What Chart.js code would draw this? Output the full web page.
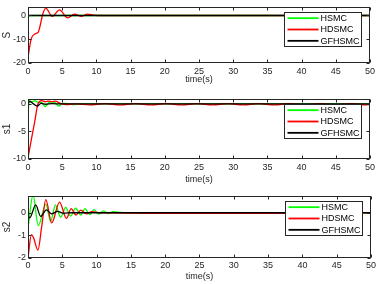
<!DOCTYPE html>
<html>
<head>
<meta charset="utf-8">
<script src="https://cdn.jsdelivr.net/npm/chart.js@4.4.0/dist/chart.umd.min.js"></script>
<style>
html, body { margin: 0; padding: 0; background: #fff; }
#wrap { position: relative; width: 378px; height: 284px; }
canvas { position: absolute; left: 0; }
</style>
</head>
<body>
<div id="wrap">
  <canvas id="c1" width="378" height="90" style="top:0"></canvas>
  <canvas id="c2" width="378" height="95" style="top:90px"></canvas>
  <canvas id="c3" width="378" height="99" style="top:185px"></canvas>
</div>
<script>
// series names + colours
const seriesNames = ['HSMC', 'HDSMC', 'GFHSMC'];
const seriesColors = ['#00ff00', '#ff0000', '#000000'];
const xTicks = [0, 5, 10, 15, 20, 25, 30, 35, 40, 45, 50];

// ---- panel 1 : S ----
const sHsmcT = [0, 0.15, 0.4, 50];
const sHsmcV = [-1.7, -0.1, 0, 0];
const sHdsmcT = [0, 0.45, 1.0, 1.5, 1.8, 2.1, 2.6, 3.55, 4.6, 5.8, 6.8, 7.8, 8.7, 9.7, 11, 50];
const sHdsmcV = [-17.7, -10, -7.8, -7, -4, 0, 3.1, -0.4, 2.4, -1.0, 0.6, -0.4, 0.6, 0.1, 0, 0];
const sGfT = [0, 50];
const sGfV = [0, 0];
const sTicks = [-20, -10, 0];

// ---- panel 2 : s1 ----
const s1HsmcT = [0, 0.2, 0.6, 1.0, 1.5, 2.0, 2.5, 3.0, 3.5, 4.0, 4.5, 5.0, 5.5, 6.5, 8, 50];
const s1HsmcV = [-1.8, 0.6, 0.4, 0.6, 0.3, 0.3, -0.5, 0.2, 0.4, 0.2, -0.4, 0.1, 0.1, -0.1, 0, 0];
const s1HdsmcT = [0, 0.5, 1.0, 1.45, 2.0, 2.5, 3.0, 3.5, 4.0, 4.7, 5.5, 7, 9, 11.2, 13.5, 15.7, 18, 20.2,
                  22.5, 24.7, 27, 29.2, 31.5, 33.7, 36, 38.2, 40.5, 42.7, 45, 47.2, 49.5, 50];
const s1HdsmcV = [-9.8, -6.4, -3.1, 0, 0.6, 0.4, 0.5, 0.4, 0.5, 0.1, -0.1, 0, -0.15, 0.05, -0.15, 0.05, -0.15, 0.05,
                  -0.15, 0.05, -0.15, 0.05, -0.15, 0.05, -0.15, 0.05, -0.15, 0.05, -0.15, 0.05, -0.15, -0.12];
const s1GfT = [0, 0.25, 0.7, 1.35, 1.9, 2.6, 3.5, 5, 50];
const s1GfV = [0.2, 0.45, 0.1, -0.4, 0.1, -0.05, 0.05, 0, 0];
const s1Ticks = [-10, -5, 0];

// ---- panel 3 : s2 ----
const s2HsmcT = [0, 0.73, 1.5, 2.6, 3.3, 4.0, 4.76, 5.5, 6.2, 6.95, 7.7, 8.3, 9.0, 9.6, 10.3, 11.0, 11.7, 12.4, 13.5, 15, 50];
const s2HsmcV = [-0.68, 0.78, -0.57, 0.38, -0.38, 0.35, -0.2, 0.24, -0.15, 0.2, -0.1, 0.18, -0.08, 0.14, -0.06, 0.08, -0.04, 0.05, 0.01, 0, 0];
const s2HdsmcT = [0, 0.5, 0.8, 1.45, 2.0, 2.6, 3.45, 4.6, 5.6, 6.3, 7.0, 7.7, 8.5, 9.3, 10.5, 12, 20, 28, 36, 44, 50];
const s2HdsmcV = [-2, -0.97, -1.1, -1.65, -0.6, 0.58, -0.45, 0.47, -0.25, 0.18, -0.1, 0.12, -0.05, 0.05, 0, 0, -0.03, -0.03, -0.03, 0, 0];
const s2GfT = [0, 0.25, 1.12, 1.85, 2.67, 3.45, 4.3, 5.2, 6.5, 50];
const s2GfV = [-0.1, -0.23, 0.35, -0.16, 0.13, -0.05, 0.06, -0.02, 0, 0];
const s2Ticks = [-2, -1, 0];

const fontFamily = '"Liberation Sans", Arial, sans-serif';

function pts(t, v) {
    return t.map((x, i) => ({ x: x, y: v[i] }));
}

// box around the axes + inward ticks like matlab
const framePlugin = {
    id: 'frame',
    afterDatasetsDraw(chart) {
        const { ctx, chartArea: a, scales: { x, y } } = chart;
        const L = Math.round(a.left) + 0.5, R = Math.round(a.right) - 0.5;
        const T = Math.round(a.top) + 0.5, B = Math.round(a.bottom) - 0.5;
        ctx.save();
        ctx.strokeStyle = '#262626';
        ctx.lineWidth = 1;
        ctx.strokeRect(L, T, R - L, B - T);
        ctx.beginPath();
        x.ticks.forEach(tk => {
            const px = Math.round(x.getPixelForValue(tk.value)) + 0.5;
            ctx.moveTo(px, B); ctx.lineTo(px, B - 3);
            ctx.moveTo(px, T); ctx.lineTo(px, T + 3);
        });
        y.ticks.forEach(tk => {
            const py = Math.round(y.getPixelForValue(tk.value)) + 0.5;
            ctx.moveTo(L, py); ctx.lineTo(L + 3, py);
            ctx.moveTo(R, py); ctx.lineTo(R - 3, py);
        });
        ctx.stroke();
        ctx.restore();
    }
};

// legend box in the upper right corner of the axes
const boxLegend = {
    id: 'boxLegend',
    afterDraw(chart) {
        const { ctx, chartArea: a } = chart;
        const w = 77, h = 34;
        const left = Math.round(a.right - 9 - w) + 0.5;
        const top = Math.round(a.top + 5) + 0.5;
        ctx.save();
        ctx.fillStyle = '#fff';
        ctx.fillRect(left, top, w, h);
        ctx.strokeStyle = '#262626';
        ctx.lineWidth = 1;
        ctx.strokeRect(left, top, w, h);
        ctx.font = '9px ' + fontFamily;
        ctx.textBaseline = 'middle';
        ctx.fillStyle = '#000';
        chart.data.datasets.forEach((ds, i) => {
            const yy = top + h * (2 * i + 1) / 6;
            ctx.strokeStyle = ds.borderColor;
            ctx.lineWidth = 1.8;
            ctx.beginPath();
            ctx.moveTo(left + 3, yy);
            ctx.lineTo(left + 34, yy);
            ctx.stroke();
            ctx.fillText(ds.label, left + 36, yy + 0.5);
        });
        ctx.restore();
    }
};

function makePanel(id, yLabel, series, yMin, yMax, yTicks, p) {
    const canvas = document.getElementById(id);
    const H = canvas.height;
    return new Chart(canvas, {
        type: 'line',
        data: {
            datasets: series.map((s, i) => ({
                label: seriesNames[i],
                data: pts(s[0], s[1]),
                borderColor: seriesColors[i],
                backgroundColor: seriesColors[i],
                borderWidth: 1.3,
                pointRadius: 0,
                cubicInterpolationMode: 'monotone',
                order: 3 - i
            }))
        },
        options: {
            responsive: false,
            animation: false,
            events: [],
            layout: { padding: { top: p.top, right: 6, left: 0, bottom: 0 } },
            plugins: { legend: { display: false }, tooltip: { enabled: false } },
            scales: {
                x: {
                    type: 'linear', min: 0, max: 50,
                    grid: { display: false, drawTicks: false },
                    border: { display: false },
                    afterBuildTicks: s => { s.ticks = xTicks.map(v => ({ value: v })); },
                    afterFit: s => { s.height = H - p.bottom; },
                    ticks: { padding: p.tickPad, color: '#262626', font: { family: fontFamily, size: 9 }, maxRotation: 0 },
                    title: { display: true, text: 'time(s)', color: '#262626',
                             font: { family: fontFamily, size: 9 }, padding: { top: 0, bottom: p.titlePad } }
                },
                y: {
                    type: 'linear', min: yMin, max: yMax,
                    grid: { display: false, drawTicks: false },
                    border: { display: false },
                    afterBuildTicks: s => { s.ticks = yTicks.map(v => ({ value: v })); },
                    afterFit: s => { s.width = 28; },
                    ticks: { padding: 2, color: '#262626', font: { family: fontFamily, size: 9 } },
                    title: { display: true, text: yLabel, color: '#262626',
                             font: { family: fontFamily, size: 10 }, padding: { top: 1, bottom: 0 } }
                }
            }
        },
        plugins: [framePlugin, boxLegend]
    });
}

makePanel('c1', 'S', [[sHsmcT, sHsmcV], [sHdsmcT, sHdsmcV], [sGfT, sGfV]], -20, 3.4, sTicks,
    { top: 2, bottom: 63, tickPad: 3, titlePad: 5 });
makePanel('c2', 's1', [[s1HsmcT, s1HsmcV], [s1HdsmcT, s1HdsmcV], [s1GfT, s1GfV]], -10, 0.9, s1Ticks,
    { top: 9, bottom: 69, tickPad: 3, titlePad: 0 });
makePanel('c3', 's2', [[s2HsmcT, s2HsmcV], [s2HdsmcT, s2HdsmcV], [s2GfT, s2GfV]], -2, 0.74, s2Ticks,
    { top: 11, bottom: 73, tickPad: 2, titlePad: 2 });
</script>
</body>
</html>
